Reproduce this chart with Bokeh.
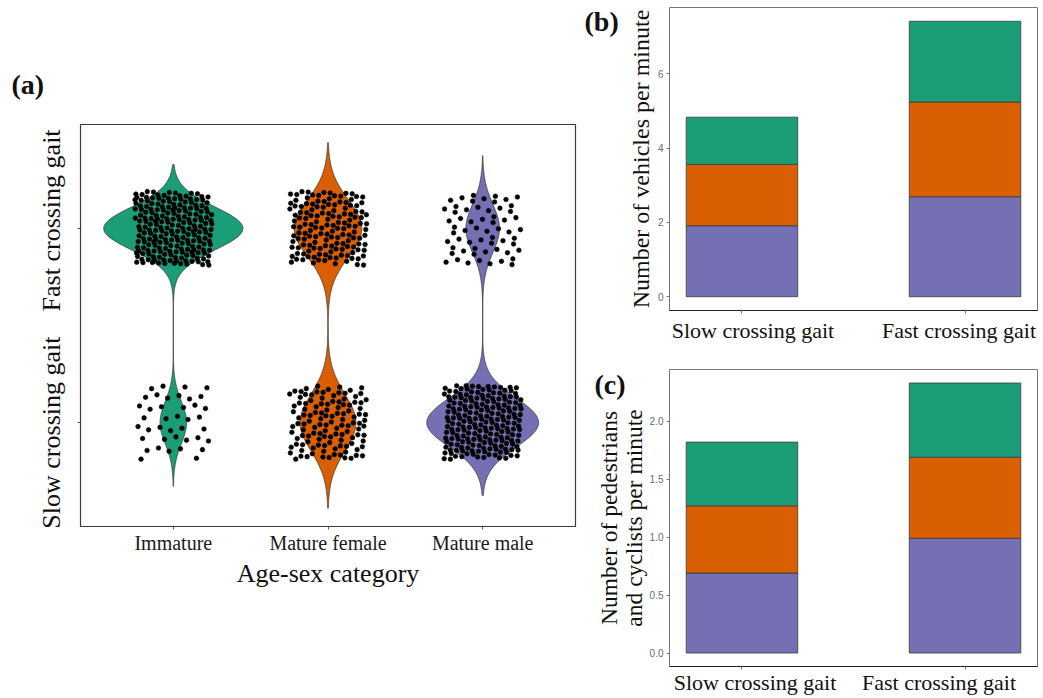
import math
import numpy as np
from bokeh.plotting import figure
from bokeh.layouts import row, column
from bokeh.models import Range1d, FixedTicker, ColumnDataSource, Title, LinearAxis
from bokeh.embed import file_html
from bokeh.resources import INLINE

# ---------------- data ----------------
age_sex = ["Immature", "Mature female", "Mature male"]
n_fast = [210, 145, 60]      # individuals crossing with a fast gait
n_slow = [40, 120, 200]      # individuals crossing with a slow gait
gait_levels = ["Slow crossing gait", "Fast crossing gait"]

# vehicles per minute, by gait, stacked by age-sex class
veh_male = [1.91, 2.69]
veh_female = [1.65, 2.55]
veh_immature = [1.27, 2.17]

# pedestrians and cyclists per minute
ped_male = [0.69, 0.99]
ped_female = [0.58, 0.70]
ped_immature = [0.55, 0.64]

palette = {"Immature": "#1B9E77", "Mature female": "#D95F02", "Mature male": "#7570B3"}

SERIF = "Liberation Serif"
SANS = "Liberation Sans"


def bw_nrd0(x):
    hi = np.std(x, ddof=1)
    q75, q25 = np.percentile(x, [75, 25])
    lo = min(hi, (q75 - q25) / 1.34)
    if not lo:
        lo = hi or abs(x[0]) or 1.0
    return 0.9 * lo * len(x) ** -0.2


def gauss(y, mu, s):
    return np.exp(-0.5 * ((y - mu) / s) ** 2) / (s * math.sqrt(2 * math.pi))


def panel_tag(text, offset, standoff):
    return Title(text=text, align="left", offset=offset, standoff=standoff,
                 text_font=SERIF, text_font_size="28px", text_font_style="bold",
                 text_color="#111111")


def ticks_only(ax, ticks):
    """Axis that draws tick marks only; its labels are carried by a separate text axis."""
    ax.ticker = FixedTicker(ticks=ticks)
    ax.major_label_overrides = {t: "" for t in ticks}
    ax.major_label_text_color = None
    ax.major_label_text_font_size = "1px"
    ax.major_label_standoff = 0


def label_axis(positions, texts, size, standoff, orientation="horizontal"):
    """Axis that only carries text, set at its own positions (no ticks, no line)."""
    ax = LinearAxis(ticker=FixedTicker(ticks=positions),
                    major_label_overrides={p: t for p, t in zip(positions, texts)},
                    major_tick_out=0, major_tick_in=0, minor_tick_out=0, minor_tick_in=0,
                    axis_line_color=None, major_tick_line_color=None, minor_tick_line_color=None,
                    major_label_text_font=SERIF, major_label_text_font_size=size,
                    major_label_text_color="#111111", major_label_standoff=standoff,
                    major_label_orientation=orientation)
    return ax


# ---------------- panel (a): violins + jittered points ----------------
violins = []
for k, name in enumerate(age_sex):
    obs = np.array([0.0] * n_slow[k] + [1.0] * n_fast[k])
    bw = bw_nrd0(obs)
    y = np.linspace(obs.min() - 3 * bw, obs.max() + 3 * bw, 512)
    p_fast = n_fast[k] / len(obs)
    dens = p_fast * gauss(y, 1.0, bw) + (1 - p_fast) * gauss(y, 0.0, bw)
    violins.append((y, dens))

dmax = max(d.max() for _, d in violins)
ymin = min(v[0].min() for v in violins)
ymax = max(v[0].max() for v in violins)
pad = 0.05 * (ymax - ymin)
ya_lo, ya_hi = ymin - pad, ymax + pad

A_W, A_H = 495, 402   # frame size of panel (a)
pa = figure(width=580, height=698, x_range=Range1d(0.4, 3.6), y_range=Range1d(ya_lo, ya_hi),
            output_backend="svg", toolbar_location=None,
            min_border_left=80, min_border_right=5, min_border_top=124, min_border_bottom=172)

for k, name in enumerate(age_sex):
    y, dens = violins[k]
    half = 0.45 * dens / dmax
    xs = np.concatenate([(k + 1) - half, ((k + 1) + half)[::-1]])
    ys = np.concatenate([y, y[::-1]])
    pa.patch(xs, ys, fill_color=palette[name], line_color="#3a3a3a", line_width=0.8)

# jitter laid out on a plastic-number (R2) low-discrepancy sequence
g = 1.32471795724474602596
a1, a2 = 1.0 / g, 1.0 / (g * g)
jx, jy = [], []
for k, name in enumerate(age_sex):
    vals = [1.0] * n_fast[k] + [0.0] * n_slow[k]
    for i, v in enumerate(vals):
        u = (0.5 + a1 * (i + 37 * k + 1)) % 1.0
        w = (0.5 + a2 * (i + 37 * k + 1)) % 1.0
        jx.append((k + 1) + (2 * u - 1) * 0.25)
        jy.append(v + (2 * w - 1) * 0.19)
pa.scatter(jx, jy, size=4.6, fill_color="black", line_color="black", line_width=0.6)

pa.xaxis.ticker = FixedTicker(ticks=[1, 2, 3])
pa.xaxis.major_label_overrides = {i + 1: n for i, n in enumerate(age_sex)}
pa.xaxis.axis_label = "Age-sex category"

for ax in (pa.xaxis, pa.yaxis):
    ax.axis_line_color = None
    ax.major_tick_out = 3
    ax.major_tick_in = 0
    ax.minor_tick_line_color = None
    ax.major_tick_line_color = "#555555"
    ax.major_label_text_font = SERIF
    ax.major_label_text_color = "#1a1a1a"
    ax.axis_label_text_font = SERIF
    ax.axis_label_text_font_style = "normal"
    ax.axis_label_text_color = "#111111"
pa.xaxis.major_label_text_font_size = "20px"
pa.xaxis.major_label_standoff = 2
pa.xaxis.axis_label_text_font_size = "26px"
pa.xaxis.axis_label_standoff = 2
ticks_only(pa.yaxis, [0, 1])

# gait labels, set slightly apart from their tick marks
py_unit = A_H / (ya_hi - ya_lo)
gait_pos = [0 - 10 / py_unit, 1 + 8 / py_unit]
pa.add_layout(label_axis(gait_pos, gait_levels, "26px", 11, "vertical"), "left")

pa.grid.grid_line_color = None
pa.outline_line_color = "#3a3a3a"
pa.outline_line_width = 1.2

pa.add_layout(panel_tag("(a)", -69, 50), "above")


# ---------------- panels (b), (c): stacked bars ----------------
def bar_panel(h, border, male, female, immature, ticks, fmt, ylabel, lab_size, lab_standoff,
              label_shift_px, xlab_standoff):
    bl, br, bt, bb = border
    top = max(a + b + c for a, b, c in zip(male, female, immature))
    y_lo, y_hi = -0.05 * top, top * 1.05
    p = figure(width=463, height=h, x_range=Range1d(0.675, 2.325), y_range=Range1d(y_lo, y_hi),
               output_backend="svg", toolbar_location=None,
               min_border_left=bl, min_border_right=br, min_border_top=bt, min_border_bottom=bb)
    src = ColumnDataSource(dict(x=[1, 2], male=male, female=female, immature=immature))
    p.vbar_stack(["male", "female", "immature"], x="x", width=0.5, source=src,
                 fill_color=[palette["Mature male"], palette["Mature female"], palette["Immature"]],
                 line_color="#3a3a3a", line_width=0.8)
    ticks_only(p.xaxis, [1, 2])
    p.yaxis.ticker = FixedTicker(ticks=ticks)
    p.yaxis.major_label_overrides = {t: fmt.format(t) for t in ticks}
    p.yaxis.axis_label = ylabel
    for ax in (p.xaxis, p.yaxis):
        ax.major_tick_out = 3
        ax.major_tick_in = 0
        ax.minor_tick_line_color = None
        ax.major_tick_line_color = "#777777"
    p.xaxis.axis_line_color = "#222222"
    p.yaxis.axis_line_color = None
    p.yaxis.major_label_text_font = SANS
    p.yaxis.major_label_text_font_size = "10px"
    p.yaxis.major_label_text_color = "#6b6b6b"
    p.yaxis.major_label_standoff = 3
    p.yaxis.axis_label_text_font = SERIF
    p.yaxis.axis_label_text_font_size = lab_size
    p.yaxis.axis_label_text_font_style = "normal"
    p.yaxis.axis_label_text_color = "#111111"
    p.yaxis.axis_label_text_line_height = 0.95
    p.yaxis.axis_label_standoff = lab_standoff
    p.grid.grid_line_color = None
    p.outline_line_color = "#777777"
    p.outline_line_width = 1.0

    px_unit = (463 - bl - br) / 1.65
    pos = [1 + label_shift_px[0] / px_unit, 2 + label_shift_px[1] / px_unit]
    p.add_layout(label_axis(pos, gait_levels, "22px", xlab_standoff), "below")
    return p


pb = bar_panel(353, (88, 5, 7, 43), veh_male, veh_female, veh_immature,
               [0, 2, 4, 6], "{:.0f}", "Number of vehicles per minute", "24px", 1, (11, -6), 4)
pc = bar_panel(345, (89, 6, 16, 32), ped_male, ped_female, ped_immature,
               [0, 0.5, 1.0, 1.5, 2.0], "{:.1f}",
               "Number of pedestrians\nand cyclists per minute", "23.5px", 0, (13, -26), 0)

pb.add_layout(panel_tag("(b)", -85, -58), "above")
pc.add_layout(panel_tag("(c)", -75, -60), "above")

layout = row(pa, column(pb, pc))
open("out.html", "w").write(file_html(layout, INLINE))
